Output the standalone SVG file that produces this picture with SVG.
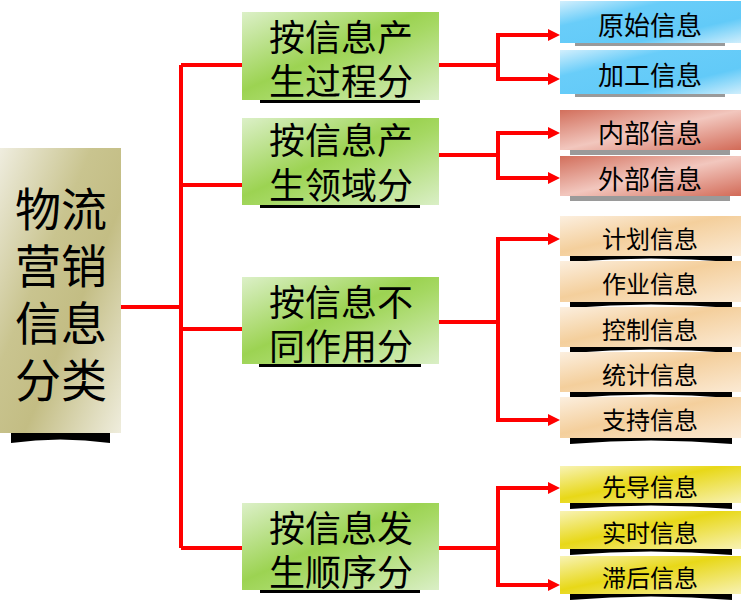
<svg xmlns="http://www.w3.org/2000/svg" width="741" height="607" viewBox="0 0 741 607">
<style>
  text { font-family: "Noto Sans CJK SC", "Noto Sans CJK TC", sans-serif; fill: #000; text-anchor: middle; }
  .root { font-size: 46px; }
  .mid { font-size: 36px; }
  .leafb { font-size: 26px; }
  .leaf { font-size: 24px; }
  .wire { fill: none; stroke: #ff0000; stroke-width: 4; }
  .arr { marker-end: url(#ah); }
  .shk { fill: #000; }
  .shg { fill: #9a9a9a; }
</style>
<defs>
  <marker id="ah" markerUnits="userSpaceOnUse" markerWidth="13" markerHeight="12" refX="1" refY="6" orient="auto">
    <path d="M0,0 L12,6 L0,12 Z" fill="#ff0000"/>
  </marker>
  <linearGradient id="gRoot" x1="0" y1="0" x2="1" y2="1">
    <stop offset="0" stop-color="#efeddf"/>
    <stop offset="0.38" stop-color="#c9c48f"/>
    <stop offset="0.6" stop-color="#c3bd84"/>
    <stop offset="1" stop-color="#efeddd"/>
  </linearGradient>
  <linearGradient id="gGreen" x1="0" y1="0" x2="1" y2="1">
    <stop offset="0" stop-color="#dcf0c8"/>
    <stop offset="0.45" stop-color="#9cd352"/>
    <stop offset="0.55" stop-color="#a5d862"/>
    <stop offset="1" stop-color="#daefc6"/>
  </linearGradient>
  <linearGradient id="gBlue" x1="0" y1="0" x2="1" y2="1">
    <stop offset="0" stop-color="#d2effd"/>
    <stop offset="0.3" stop-color="#69cdf9"/>
    <stop offset="0.7" stop-color="#62caf8"/>
    <stop offset="1" stop-color="#d0eefc"/>
  </linearGradient>
  <linearGradient id="gRed" x1="0" y1="0" x2="1" y2="1">
    <stop offset="0" stop-color="#d26f5c"/>
    <stop offset="0.5" stop-color="#f2c7be"/>
    <stop offset="1" stop-color="#d26a57"/>
  </linearGradient>
  <linearGradient id="gOrange" x1="0" y1="0" x2="1" y2="1">
    <stop offset="0" stop-color="#fcefdf"/>
    <stop offset="0.45" stop-color="#f4cf9c"/>
    <stop offset="1" stop-color="#fbead4"/>
  </linearGradient>
  <linearGradient id="gYellow" x1="0" y1="0" x2="1" y2="1">
    <stop offset="0" stop-color="#f8f3b4"/>
    <stop offset="0.45" stop-color="#e8d818"/>
    <stop offset="1" stop-color="#f8f2b4"/>
  </linearGradient>
</defs>

<g id="connectors">
  <path class="wire" d="M121,307 H181"/>
  <path class="wire" d="M181,65 V548"/>
  <path class="wire" d="M181,65 H242"/>
  <path class="wire" d="M181,185 H242"/>
  <path class="wire" d="M181,329 H242"/>
  <path class="wire" d="M181,548 H242"/>

  <path class="wire" d="M439,65 H498"/>
  <path class="wire arr" d="M498,65 V35 H549"/>
  <path class="wire arr" d="M498,65 V79 H549"/>

  <path class="wire" d="M439,155 H498"/>
  <path class="wire arr" d="M498,155 V133 H549"/>
  <path class="wire arr" d="M498,155 V178 H549"/>

  <path class="wire" d="M439,322 H498"/>
  <path class="wire arr" d="M498,322 V239 H549"/>
  <path class="wire arr" d="M498,322 V420 H549"/>

  <path class="wire" d="M439,548 H498"/>
  <path class="wire arr" d="M498,548 V488 H549"/>
  <path class="wire arr" d="M498,548 V585 H549"/>
</g>

<g id="root">
  <path class="shk" d="M11,431 H110 V443 Q60,436 11,443 Z"/>
  <rect x="0" y="148" width="121" height="285" fill="url(#gRoot)"/>
  <text class="root" x="61" y="226">物流<tspan x="61" dy="57">营销</tspan><tspan x="61" dy="57">信息</tspan><tspan x="61" dy="57">分类</tspan></text>
</g>

<g id="m1">
  <rect class="shk" x="260" y="98" width="160" height="5"/>
  <rect x="242" y="12" width="197" height="88" fill="url(#gGreen)"/>
  <text class="mid" x="341" y="51">按信息产<tspan x="341" dy="44">生过程分</tspan></text>
</g>
<g id="m2">
  <rect class="shk" x="260" y="203" width="160" height="5"/>
  <rect x="242" y="118" width="197" height="87" fill="url(#gGreen)"/>
  <text class="mid" x="341" y="154">按信息产<tspan x="341" dy="45">生领域分</tspan></text>
</g>
<g id="m3">
  <rect class="shk" x="259" y="362" width="162" height="5"/>
  <rect x="242" y="277" width="197" height="87" fill="url(#gGreen)"/>
  <text class="mid" x="341" y="316">按信息不<tspan x="341" dy="44">同作用分</tspan></text>
</g>
<g id="m4">
  <rect class="shk" x="260" y="588" width="160" height="5"/>
  <rect x="242" y="503" width="197" height="87" fill="url(#gGreen)"/>
  <text class="mid" x="341" y="542">按信息发<tspan x="341" dy="44">生顺序分</tspan></text>
</g>

<g id="b1">
  <rect class="shg" x="575" y="42" width="150" height="4"/>
  <rect x="560" y="1" width="181" height="42" fill="url(#gBlue)"/>
  <text class="leafb" x="650" y="35">原始信息</text>
</g>
<g id="b2">
  <rect class="shg" x="575" y="93" width="150" height="4"/>
  <rect x="560" y="50" width="181" height="44" fill="url(#gBlue)"/>
  <text class="leafb" x="650" y="85">加工信息</text>
</g>
<g id="r1">
  <rect class="shg" x="570" y="149" width="160" height="6"/>
  <rect x="560" y="110" width="181" height="40" fill="url(#gRed)"/>
  <text class="leafb" x="650" y="143">内部信息</text>
</g>
<g id="r2">
  <rect class="shg" x="570" y="195" width="160" height="6"/>
  <rect x="560" y="156" width="181" height="40" fill="url(#gRed)"/>
  <text class="leafb" x="650" y="189">外部信息</text>
</g>

<g id="o1">
  <path class="shk" d="M570,255 H732 V262 Q651,255 570,262 Z"/>
  <rect x="560" y="216" width="181" height="40" fill="url(#gOrange)"/>
  <text class="leaf" x="650" y="248">计划信息</text>
</g>
<g id="o2">
  <path class="shk" d="M570,301 H732 V308 Q651,301 570,308 Z"/>
  <rect x="560" y="261" width="181" height="41" fill="url(#gOrange)"/>
  <text class="leaf" x="650" y="293">作业信息</text>
</g>
<g id="o3">
  <path class="shk" d="M570,346 H732 V353 Q651,346 570,353 Z"/>
  <rect x="560" y="307" width="181" height="40" fill="url(#gOrange)"/>
  <text class="leaf" x="650" y="339">控制信息</text>
</g>
<g id="o4">
  <path class="shk" d="M570,391 H732 V398 Q651,391 570,398 Z"/>
  <rect x="560" y="352" width="181" height="40" fill="url(#gOrange)"/>
  <text class="leaf" x="650" y="384">统计信息</text>
</g>
<g id="o5">
  <path class="shk" d="M570,437 H732 V444 Q651,437 570,444 Z"/>
  <rect x="560" y="397" width="181" height="41" fill="url(#gOrange)"/>
  <text class="leaf" x="650" y="429">支持信息</text>
</g>

<g id="y1">
  <path class="shk" d="M570,502 H732 V509 Q651,502 570,509 Z"/>
  <rect x="560" y="466" width="181" height="37" fill="url(#gYellow)"/>
  <text class="leaf" x="650" y="496">先导信息</text>
</g>
<g id="y2">
  <path class="shk" d="M570,548 H732 V555 Q651,548 570,555 Z"/>
  <rect x="560" y="511" width="181" height="38" fill="url(#gYellow)"/>
  <text class="leaf" x="650" y="542">实时信息</text>
</g>
<g id="y3">
  <path class="shk" d="M570,593 H732 V600 Q651,593 570,600 Z"/>
  <rect x="560" y="556" width="181" height="38" fill="url(#gYellow)"/>
  <text class="leaf" x="650" y="587">滞后信息</text>
</g>
</svg>
